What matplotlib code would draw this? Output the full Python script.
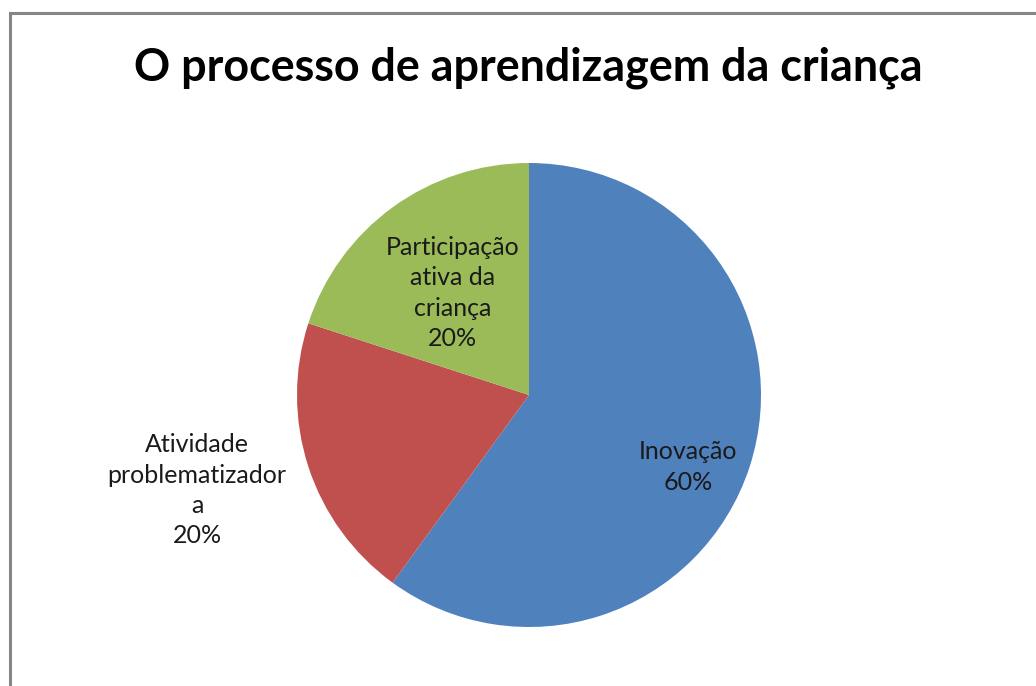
import matplotlib
matplotlib.use("Agg")
import matplotlib.pyplot as plt
from matplotlib.lines import Line2D

categories = ["Inovação", "Atividade\nproblematizador\na", "Participação\nativa da\ncriança"]
values = [60, 20, 20]
colors = ["#4F81BD", "#C0504D", "#9BBB59"]
title = "O processo de aprendizagem da criança"
label_pos = [(0.685, -0.31), (-1.43, -0.41), (-0.328, 0.44)]

plt.rcParams['font.family'] = ['Lato', 'DejaVu Sans']

W, H = 1036, 686
fig = plt.figure(figsize=(W / 100, H / 100), dpi=100)
fig.patch.set_facecolor("white")

# chart border (left and top visible)
fig.add_artist(Line2D([9.5 / W, 9.5 / W], [0, 1 - 13 / H], color="#868686", lw=2.2,
                      transform=fig.transFigure))
fig.add_artist(Line2D([9.5 / W, 1], [1 - 13 / H, 1 - 13 / H], color="#868686", lw=2.2,
                      transform=fig.transFigure))

cx, cy, r = 529, 395, 232
ax = fig.add_axes([(cx - r) / W, (H - cy - r) / H, 2 * r / W, 2 * r / H])
ax.pie(values, colors=colors, startangle=90, counterclock=False, radius=1,
       wedgeprops=dict(linewidth=0))
ax.set_xlim(-1, 1)
ax.set_ylim(-1, 1)
ax.set_aspect("equal")
ax.axis("off")

total = sum(values)
for cat, v, (x, y) in zip(categories, values, label_pos):
    ax.text(x, y, f"{cat}\n{round(100 * v / total)}%", ha="center", va="center",
            fontsize=18, linespacing=1.38, color="#1a1a1a", clip_on=False)

fig.text(528 / W, 1 - 68 / H, title, ha="center", va="center", fontsize=32.3,
         fontweight="bold", color="black")

fig.savefig("out.png", dpi=100)
